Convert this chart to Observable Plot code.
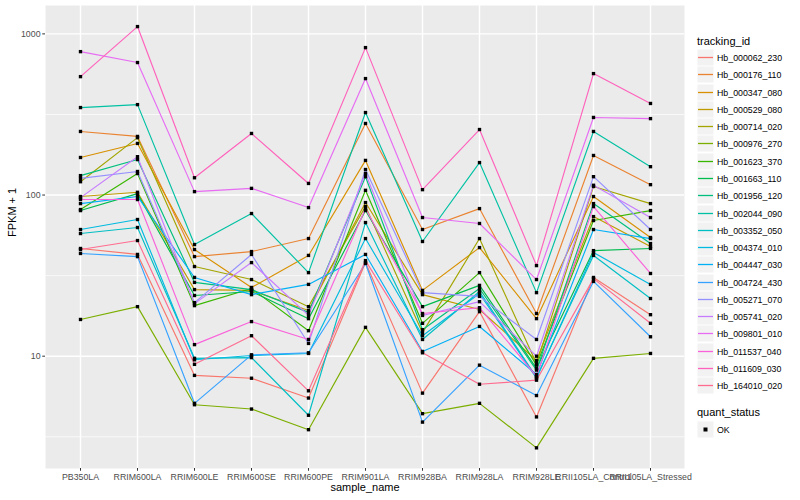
<!DOCTYPE html>
<html>
<head>
<meta charset="utf-8">
<script src="https://cdn.jsdelivr.net/npm/d3@7"></script>
<script src="https://cdn.jsdelivr.net/npm/@observablehq/plot@0.6"></script>
<style>
  body { margin: 0; background: #fff; font-family: "Liberation Sans", Arial, sans-serif; }
  #wrap { position: relative; width: 800px; height: 500px; overflow: hidden; }
  #legend { position: absolute; left: 697px; top: 0; width: 103px; height: 500px; color: #000; }
  .ltitle { position: absolute; left: 0; font-size: 11px; line-height: 14px; white-space: nowrap; }
  .lentry { position: absolute; left: 0; height: 17px; display: flex; align-items: center; white-space: nowrap; }
  .lkey { display: block; flex: none; }
  .llabel { font-size: 8.8px; margin-left: 3px; }
</style>
</head>
<body>
<div id="wrap"></div>
<script>
// ---- data ----
const samples = ["PB350LA", "RRIM600LA", "RRIM600LE", "RRIM600SE", "RRIM600PE", "RRIM901LA",
  "RRIM928BA", "RRIM928LA", "RRIM928LE", "RRII105LA_Control", "RRII105LA_Stressed"];

const trackingIds = ["Hb_000062_230", "Hb_000176_110", "Hb_000347_080", "Hb_000529_080", "Hb_000714_020",
  "Hb_000976_270", "Hb_001623_370", "Hb_001663_110", "Hb_001956_120", "Hb_002044_090",
  "Hb_003352_050", "Hb_004374_010", "Hb_004447_030", "Hb_004724_430", "Hb_005271_070",
  "Hb_005741_020", "Hb_009801_010", "Hb_011537_040", "Hb_011609_030", "Hb_164010_020"];

// FPKM + 1, one row per tracking_id, one value per sample (same order as samples)
const fpkm = [
  [46.6, 42.8, 7.6, 7.3, 5.5, 38.1, 5.9, 18.9, 4.2, 30.8, 18.1],
  [248, 231, 41.5, 44.6, 53.7, 278, 61.1, 82.4, 18.4, 176, 116],
  [171, 209, 45.9, 26.7, 42.2, 164, 25.6, 47.2, 17.1, 97.9, 54.5],
  [97.9, 104, 25.9, 25.6, 19.2, 89.8, 24.1, 19.5, 9.4, 73.5, 47.9],
  [121, 227, 36.0, 29.9, 20.3, 84.8, 14.0, 53.7, 9.0, 113, 88.5],
  [16.9, 20.3, 5.0, 4.7, 3.5, 15.1, 4.4, 5.1, 2.7, 9.7, 10.4],
  [81.3, 136, 20.6, 26.3, 14.4, 107, 16.0, 33.0, 8.8, 69.5, 80.1],
  [80.1, 102, 23.8, 25.2, 17.1, 80.1, 20.3, 27.5, 8.4, 45.2, 46.6],
  [132, 166, 28.7, 25.9, 18.7, 130, 14.6, 26.3, 8.2, 88.5, 50.0],
  [349, 364, 49.3, 76.8, 33.0, 325, 51.5, 159, 24.8, 248, 150],
  [57.7, 62.9, 9.7, 9.8, 4.3, 67.5, 12.7, 25.2, 7.4, 42.2, 22.8],
  [61.1, 70.5, 9.5, 10.1, 10.4, 53.7, 13.4, 24.5, 7.3, 44.0, 27.9],
  [88.5, 97.9, 30.8, 24.1, 27.9, 42.8, 10.7, 15.3, 7.7, 61.1, 53.7],
  [43.4, 41.5, 5.1, 10.2, 10.5, 37.6, 3.9, 8.8, 5.7, 29.1, 13.2],
  [127, 140, 21.5, 42.8, 12.0, 144, 24.8, 23.5, 12.7, 130, 61.1],
  [96.4, 173, 21.2, 38.1, 17.9, 136, 17.9, 21.8, 10.0, 115, 72.5],
  [776, 664, 105, 110, 83.6, 528, 72.5, 66.6, 29.9, 303, 298],
  [93.8, 93.8, 11.8, 16.4, 12.7, 82.4, 18.4, 20.0, 7.5, 84.8, 32.6],
  [543, 1110, 128, 241, 118, 822, 108, 255, 36.5, 567, 370],
  [45.9, 52.2, 8.9, 13.4, 6.1, 39.2, 10.5, 6.7, 7.1, 30.3, 16.0]
];

const quantStatus = ["OK"];
const yTicks = [10, 100, 1000];
const yTickLabels = ["10", "100", "1000"];
const yMinor = [3.162, 31.62, 316.2];

// ggplot2 default hue palette for 20 levels
const palette = ["#F8766D", "#EA8331", "#D89000", "#C09B00", "#A3A500", "#7CAE00", "#39B600", "#00BB4E",
  "#00BF7D", "#00C1A3", "#00BFC4", "#00BAE0", "#00B0F6", "#35A2FF", "#9590FF", "#C77CFF",
  "#E76BF3", "#FA62DB", "#FF62BC", "#FF6C90"];

// ---- table ----
const rows = [];
trackingIds.forEach((id, i) => samples.forEach((s, j) =>
  rows.push({tracking_id: id, sample_name: s, fpkm: fpkm[i][j], quant_status: quantStatus[0]})));

const chart = Plot.plot({
  width: 800, height: 500,
  marginLeft: 45, marginRight: 116, marginTop: 5, marginBottom: 32,
  style: {fontFamily: "Liberation Sans, Arial, sans-serif", fontSize: "8.8px", background: "#fff", color: "#000", overflow: "visible"},
  x: {type: "point", domain: samples, padding: 0.6, label: null},
  y: {type: "log", domain: [2.01, 1500], label: null},
  color: {domain: trackingIds, range: palette},
  marks: [
    Plot.frame({fill: "#EBEBEB", stroke: "none"}),
    Plot.ruleY(yMinor, {stroke: "#fff", strokeWidth: 0.71}),
    Plot.ruleY(yTicks, {stroke: "#fff", strokeWidth: 1.42}),
    Plot.ruleX(samples, {stroke: "#fff", strokeWidth: 1.42}),
    Plot.line(rows, {x: "sample_name", y: "fpkm", z: "tracking_id", stroke: "tracking_id", strokeWidth: 1.15}),
    Plot.dot(rows, {x: "sample_name", y: "fpkm", symbol: "square", r: 1.9, fill: "#000", stroke: "none"}),
    Plot.axisY({ticks: yTicks, tickFormat: (d) => yTickLabels[yTicks.indexOf(d)], tickSize: 2.75, tickPadding: 2.2,
      fontSize: 8.8, fill: "#4D4D4D", stroke: "#333333", label: null}),
    Plot.axisX({tickSize: 2.75, tickPadding: 2.2, fontSize: 8.8, fill: "#4D4D4D", stroke: "#333333", label: null}),
    Plot.text(["sample_name"], {text: (d) => d, frameAnchor: "bottom", dy: 22.5, fontSize: 11, fill: "#000"}),
    Plot.text(["FPKM + 1"], {text: (d) => d, frameAnchor: "left", dx: -33, rotate: -90, fontSize: 11, fill: "#000"})
  ]
});

const wrap = document.getElementById("wrap");
wrap.appendChild(chart);

// ---- legend (HTML, right of the panel) ----
const NS = "http://www.w3.org/2000/svg";
function keySvg(kind, color) {
  const s = document.createElementNS(NS, "svg");
  s.setAttribute("width", 17); s.setAttribute("height", 17);
  s.setAttribute("class", "lkey");
  const r = document.createElementNS(NS, "rect");
  r.setAttribute("x", 0.5); r.setAttribute("y", 0.5); r.setAttribute("width", 16); r.setAttribute("height", 16);
  r.setAttribute("fill", "#F2F2F2");
  s.appendChild(r);
  if (kind === "line") {
    const l = document.createElementNS(NS, "line");
    l.setAttribute("x1", 1); l.setAttribute("x2", 16); l.setAttribute("y1", 8.5); l.setAttribute("y2", 8.5);
    l.setAttribute("stroke", color); l.setAttribute("stroke-width", 1.3);
    s.appendChild(l);
  } else {
    const q = document.createElementNS(NS, "rect");
    q.setAttribute("x", 6.5); q.setAttribute("y", 6.5); q.setAttribute("width", 4); q.setAttribute("height", 4);
    q.setAttribute("fill", "#000");
    s.appendChild(q);
  }
  return s;
}
const legend = document.createElement("div");
legend.id = "legend";
const t1 = document.createElement("div");
t1.className = "ltitle"; t1.style.top = "33.5px"; t1.textContent = "tracking_id";
legend.appendChild(t1);
trackingIds.forEach((id, i) => {
  const e = document.createElement("div");
  e.className = "lentry";
  e.style.top = Math.round(49 + i * 17.28) + "px";
  const lb = document.createElement("span"); lb.className = "llabel"; lb.textContent = id;
  e.appendChild(keySvg("line", palette[i])); e.appendChild(lb);
  legend.appendChild(e);
});
const t2 = document.createElement("div");
t2.className = "ltitle"; t2.style.top = "405px"; t2.textContent = "quant_status";
legend.appendChild(t2);
quantStatus.forEach((q, i) => {
  const e = document.createElement("div");
  e.className = "lentry";
  e.style.top = Math.round(421 + i * 17.28) + "px";
  const lb = document.createElement("span"); lb.className = "llabel"; lb.textContent = q;
  e.appendChild(keySvg("point")); e.appendChild(lb);
  legend.appendChild(e);
});
wrap.appendChild(legend);
</script>
</body>
</html>
